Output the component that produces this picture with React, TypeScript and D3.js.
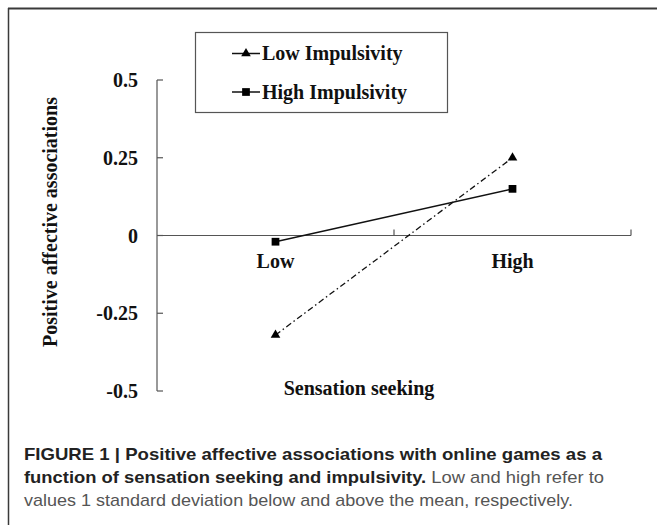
import React, { useEffect, useRef } from 'react';
import * as d3 from 'd3';

const sensation = ['Low', 'High'];
const lowImpulsivity = [-0.32, 0.25];
const highImpulsivity = [-0.02, 0.15];
const yTicks = [0.5, 0.25, 0, -0.25, -0.5];
const seriesNames = ['Low Impulsivity', 'High Impulsivity'];
const captionBold1 = 'FIGURE 1 | Positive affective associations with online games as a';
const captionBold2 = 'function of sensation seeking and impulsivity.';
const captionRest2 = ' Low and high refer to';
const captionLine3 = 'values 1 standard deviation below and above the mean, respectively.';

const serif = '"Liberation Serif", "Times New Roman", serif';
const sans = '"Liberation Sans", Arial, sans-serif';

function App() {
  const ref = useRef<SVGSVGElement>(null);

  useEffect(() => {
    const svg = d3.select(ref.current);
    svg.selectAll('*').remove();

    // frame (top + left edges only, like the cropped figure)
    svg.append('line').attr('x1', 8).attr('x2', 657).attr('y1', 8.5).attr('y2', 8.5)
      .attr('stroke', '#3a3a3a').attr('stroke-width', 2);
    svg.append('line').attr('x1', 8.5).attr('x2', 8.5).attr('y1', 8).attr('y2', 525)
      .attr('stroke', '#3a3a3a').attr('stroke-width', 1.5);

    const x = d3.scaleBand().domain(sensation).range([157, 631]);
    const y = d3.scaleLinear().domain([-0.5, 0.5]).range([391, 80]);
    const cx = (d: string) => (x(d) as number) + x.bandwidth() / 2;

    const axisColor = '#555';

    // y axis
    const yAxis = svg.append('g');
    yAxis.append('line').attr('x1', 157).attr('x2', 157).attr('y1', y(0.5)).attr('y2', y(-0.5))
      .attr('stroke', axisColor).attr('stroke-width', 1.2);
    yAxis.selectAll('line.tick').data(yTicks).enter().append('line').attr('class', 'tick')
      .attr('x1', 157).attr('x2', 163).attr('y1', d => y(d)).attr('y2', d => y(d))
      .attr('stroke', axisColor).attr('stroke-width', 1.2);
    yAxis.selectAll('text').data(yTicks).enter().append('text')
      .attr('x', 138).attr('y', d => y(d) + 7).attr('text-anchor', 'end')
      .attr('font-family', serif).attr('font-weight', 'bold').attr('font-size', 20)
      .attr('fill', '#111').text(d => String(d));

    // x axis at zero
    const xAxis = svg.append('g');
    xAxis.append('line').attr('x1', 157).attr('x2', 631).attr('y1', y(0)).attr('y2', y(0))
      .attr('stroke', axisColor).attr('stroke-width', 1.2);
    const bounds = sensation.map(d => (x(d) as number) + x.bandwidth());
    xAxis.selectAll('line.tick').data(bounds).enter().append('line').attr('class', 'tick')
      .attr('x1', d => d).attr('x2', d => d).attr('y1', y(0)).attr('y2', y(0) - 6)
      .attr('stroke', axisColor).attr('stroke-width', 1.2);
    xAxis.selectAll('text').data(sensation).enter().append('text')
      .attr('x', d => cx(d)).attr('y', 268).attr('text-anchor', 'middle')
      .attr('font-family', serif).attr('font-weight', 'bold').attr('font-size', 20)
      .attr('fill', '#111').text(d => d);

    svg.append('text').attr('x', 359).attr('y', 395).attr('text-anchor', 'middle')
      .attr('font-family', serif).attr('font-weight', 'bold').attr('font-size', 20)
      .attr('fill', '#111').text('Sensation seeking');

    svg.append('text').attr('transform', 'translate(57,222) rotate(-90)')
      .attr('text-anchor', 'middle')
      .attr('font-family', serif).attr('font-weight', 'bold').attr('font-size', 20)
      .attr('fill', '#111').text('Positive affective associations');

    // lines
    const line = d3.line<number>().x((_, i) => cx(sensation[i])).y(d => y(d));
    svg.append('path').attr('d', line(lowImpulsivity)).attr('fill', 'none')
      .attr('stroke', '#111').attr('stroke-width', 1.3).attr('stroke-dasharray', '6,3,1.5,3');
    svg.append('path').attr('d', line(highImpulsivity)).attr('fill', 'none')
      .attr('stroke', '#111').attr('stroke-width', 1.5);

    const tri = d3.symbol().type(d3.symbolTriangle).size(40);
    const sq = d3.symbol().type(d3.symbolSquare).size(60);
    svg.selectAll('path.tri').data(lowImpulsivity).enter().append('path').attr('class', 'tri')
      .attr('d', tri()).attr('fill', '#000')
      .attr('transform', (d, i) => `translate(${cx(sensation[i])},${y(d)})`);
    svg.selectAll('path.sq').data(highImpulsivity).enter().append('path').attr('class', 'sq')
      .attr('d', sq()).attr('fill', '#000')
      .attr('transform', (d, i) => `translate(${cx(sensation[i])},${y(d)})`);

    // legend
    const legend = svg.append('g');
    legend.append('rect').attr('x', 195.5).attr('y', 32.5).attr('width', 252).attr('height', 80)
      .attr('fill', 'white').attr('stroke', '#555').attr('stroke-width', 1.2);
    const rows = legend.selectAll('g').data(seriesNames).enter().append('g')
      .attr('transform', (_, i) => `translate(0,${i === 0 ? 53.5 : 92})`);
    rows.append('line').attr('x1', 232).attr('x2', 260).attr('y1', 0).attr('y2', 0)
      .attr('stroke', '#111').attr('stroke-width', 1.5);
    rows.append('path').attr('d', (_, i) => (i === 0 ? tri() : sq()))
      .attr('transform', 'translate(246,0)').attr('fill', '#000');
    rows.append('text').attr('x', 262).attr('y', 6.5)
      .attr('font-family', serif).attr('font-weight', 'bold').attr('font-size', 20)
      .attr('fill', '#111').text(d => d);

    // caption
    const cap = svg.append('g').attr('font-family', sans).attr('font-size', 17);
    cap.append('text').attr('x', 24).attr('y', 460).attr('font-weight', 'bold')
      .attr('fill', '#222').attr('textLength', 578).attr('lengthAdjust', 'spacingAndGlyphs')
      .text(captionBold1);
    const t2 = cap.append('text').attr('x', 24).attr('y', 483)
      .attr('textLength', 580).attr('lengthAdjust', 'spacingAndGlyphs');
    t2.append('tspan').attr('font-weight', 'bold').attr('fill', '#222').text(captionBold2);
    t2.append('tspan').attr('fill', '#555').text(captionRest2);
    cap.append('text').attr('x', 24).attr('y', 506).attr('fill', '#555')
      .attr('textLength', 549).attr('lengthAdjust', 'spacingAndGlyphs')
      .text(captionLine3);
  }, []);

  return (
    <svg ref={ref} width={657} height={525}
      style={{ position: 'absolute', left: 0, top: 0, background: 'white' }} />
  );
}

export default App;
